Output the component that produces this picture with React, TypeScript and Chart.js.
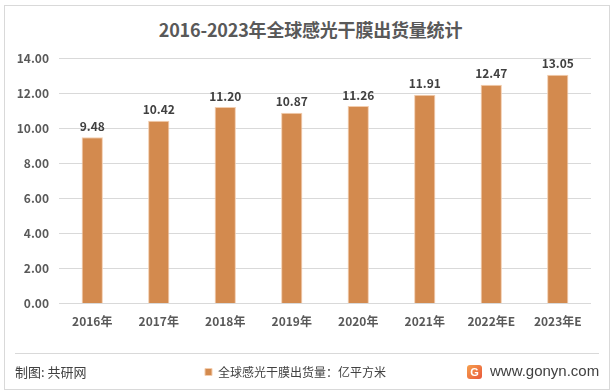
import React, { useEffect, useRef } from "react";
import { Chart, registerables } from "chart.js";

Chart.register(...registerables);

const categories = ["2016年", "2017年", "2018年", "2019年", "2020年", "2021年", "2022年E", "2023年E"];
const shipments = [9.48, 10.42, 11.2, 10.87, 11.26, 11.91, 12.47, 13.05];
const yTicks = [0, 2, 4, 6, 8, 10, 12, 14];
const seriesName = "全球感光干膜出货量：亿平方米";
const titleText = "2016-2023年全球感光干膜出货量统计";
const sourceText = "制图: 共研网";
const siteText = "www.gonyn.com";

const FONT = "'Noto Sans CJK SC', 'Noto Sans', sans-serif";

const valueLabels = {
  id: "valueLabels",
  afterDatasetsDraw(chart: any) {
    const ctx = chart.ctx;
    const meta = chart.getDatasetMeta(0);
    ctx.save();
    ctx.font = `bold 12px ${FONT}`;
    ctx.fillStyle = "#404040";
    ctx.textAlign = "center";
    ctx.textBaseline = "bottom";
    meta.data.forEach((bar: any, i: number) => {
      ctx.fillText(shipments[i].toFixed(2), bar.x, bar.y - 5);
    });
    ctx.restore();
  },
};

export default function App() {
  const ref = useRef<HTMLCanvasElement | null>(null);
  useEffect(() => {
    if (!ref.current) return;
    const chart = new Chart(ref.current, {
      type: "bar",
      data: {
        labels: categories,
        datasets: [
          {
            label: seriesName,
            data: shipments,
            backgroundColor: "#D38A4E",
            borderColor: "#F3CDAE",
            borderWidth: 1,
            barPercentage: 0.32,
            categoryPercentage: 1,
          },
        ],
      },
      options: {
        responsive: false,
        animation: false,
        layout: { padding: { left: 0, right: 24, top: 58, bottom: 4 } },
        plugins: {
          title: { display: false },
          tooltip: { enabled: false },
          legend: {
            display: true,
            position: "bottom",
            labels: {
              boxWidth: 7,
              boxHeight: 7,
              padding: 10,
              color: "#404040",
              font: { family: FONT, size: 12 },
            },
          },
        },
        scales: {
          x: {
            grid: { display: false },
            border: { display: false },
            ticks: {
              color: "#595959",
              font: { family: FONT, size: 12, weight: "bold" },
              padding: 3,
              maxRotation: 0,
            },
            afterFit: (s: any) => {
              s.height = 52.6;
            },
          },
          y: {
            min: 0,
            max: 14,
            afterBuildTicks: (s: any) => {
              s.ticks = yTicks.map((v) => ({ value: v }));
            },
            ticks: {
              color: "#595959",
              font: { family: FONT, size: 12, weight: "bold" },
              padding: 10,
              callback: (v: any) => Number(v).toFixed(2),
            },
            grid: { color: "#D9D9D9", drawTicks: false },
            border: { display: false },
            afterFit: (s: any) => {
              s.width = 59;
            },
          },
        },
      },
      plugins: [valueLabels],
    });
    return () => chart.destroy();
  }, []);

  return (
    <div
      style={{
        position: "fixed",
        left: 0,
        top: 0,
        width: 615,
        height: 392,
        background: "#ffffff",
        fontFamily: FONT,
        overflow: "hidden",
      }}
    >
      <div
        style={{
          position: "absolute",
          left: 4,
          top: 5,
          width: 604,
          height: 383,
          border: "1px solid #D9D9D9",
        }}
      />
      <div
        style={{
          position: "absolute",
          left: 3,
          top: 16,
          width: 615,
          textAlign: "center",
          fontSize: 18,
          fontWeight: "bold",
          color: "#595959",
          lineHeight: "26px",
          letterSpacing: "-0.2px",
        }}
      >
        {titleText}
      </div>
      <canvas ref={ref} width={615} height={392} style={{ position: "absolute", left: 0, top: 0 }} />
      <div
        style={{
          position: "absolute",
          left: 15,
          top: 353,
          width: 584,
          height: 1,
          background: "#D9D9D9",
        }}
      />
      <div
        style={{
          position: "absolute",
          left: 15,
          top: 362,
          fontSize: 13,
          lineHeight: "20px",
          color: "#404040",
        }}
      >
        {sourceText}
      </div>
      <div
        style={{
          position: "absolute",
          left: 467,
          top: 365,
          width: 15,
          height: 14,
          borderRadius: 3,
          background: "linear-gradient(135deg, #F6A04D, #E8573A)",
          color: "#fff",
          fontSize: 11,
          fontWeight: "bold",
          lineHeight: "14px",
          textAlign: "center",
          fontFamily: "'Liberation Sans', sans-serif",
        }}
      >
        G
      </div>
      <div
        style={{
          position: "absolute",
          left: 490,
          top: 361,
          fontSize: 15,
          lineHeight: "20px",
          color: "#404040",
          fontFamily: "'Liberation Sans', 'DejaVu Sans', sans-serif",
        }}
      >
        {siteText}
      </div>
    </div>
  );
}
